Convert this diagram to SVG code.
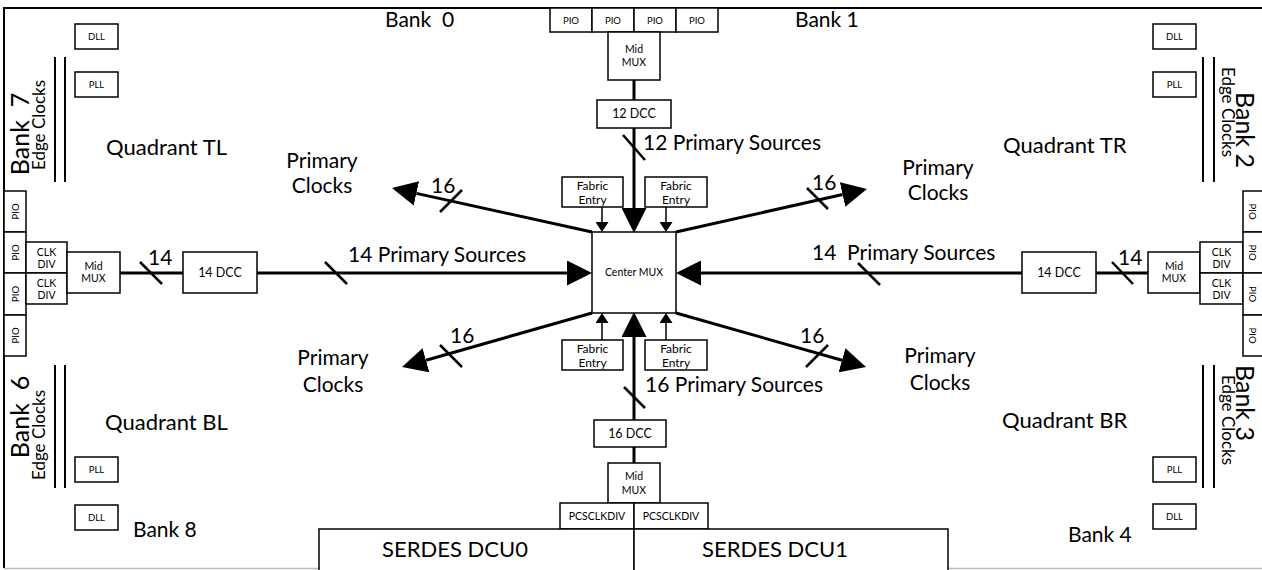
<svg xmlns="http://www.w3.org/2000/svg" width="1262" height="570" viewBox="0 0 1262 570">
<style>
text{font-family:Lato,"Liberation Sans",sans-serif;fill:#000}
.box{fill:#fff;stroke:#000;stroke-width:1.5}
.c{text-anchor:middle}
.thick{stroke:#000;stroke-width:3;fill:none}
.thin{stroke:#000;stroke-width:1.5;fill:none}
.slash{stroke:#000;stroke-width:2.5}
.ec{stroke:#000;stroke-width:2}
.pio{font-size:9.5px}
.sm{font-size:10.5px}
.md{font-size:12.5px}
.fe{font-size:12px}
.lg{font-size:21px}
.xl{font-size:22px}
.pre{white-space:pre}
</style>
<defs>
<marker id="big" markerUnits="userSpaceOnUse" markerWidth="25" markerHeight="25" refX="0" refY="12.5" orient="auto"><path d="M0,0 L25,12.5 L0,25 z" fill="#000"/></marker>
<marker id="small" markerUnits="userSpaceOnUse" markerWidth="10" markerHeight="13" refX="0" refY="6.5" orient="auto"><path d="M0,0 L10,6.5 L0,13 z" fill="#000"/></marker>
</defs>
<rect width="1262" height="570" fill="#fff"/>
<g id="frame">
<path d="M1262,8 H4 V568" fill="none" stroke="#000" stroke-width="2"/>
<line x1="4" y1="568.5" x2="1262" y2="568.5" stroke="#bbb" stroke-width="1.5"/>
</g>
<g id="connectors">
<line class="thick" x1="634" y1="80" x2="634" y2="100"/>
<line class="thick" x1="634" y1="128" x2="634" y2="208" marker-end="url(#big)"/>
<line class="thick" x1="634" y1="447" x2="634" y2="463"/>
<line class="thick" x1="634" y1="420" x2="634" y2="337" marker-end="url(#big)"/>
<line class="thick" x1="120" y1="273" x2="183" y2="273"/>
<line class="thick" x1="257" y1="273" x2="567" y2="273" marker-end="url(#big)"/>
<line class="thick" x1="1148" y1="273" x2="1096" y2="273"/>
<line class="thick" x1="1022" y1="273" x2="701" y2="273" marker-end="url(#big)"/>
<line class="thick" x1="592" y1="232" x2="416.4" y2="193.4" marker-end="url(#big)"/>
<line class="thick" x1="676" y1="232" x2="842.6" y2="194.5" marker-end="url(#big)"/>
<line class="thick" x1="592" y1="313" x2="426" y2="360.2" marker-end="url(#big)"/>
<line class="thick" x1="676" y1="313" x2="842" y2="360.2" marker-end="url(#big)"/>
<line class="thin" x1="602" y1="207" x2="602" y2="222" marker-end="url(#small)"/>
<line class="thin" x1="666" y1="207" x2="666" y2="222" marker-end="url(#small)"/>
<line class="thin" x1="602" y1="340" x2="602" y2="323" marker-end="url(#small)"/>
<line class="thin" x1="666" y1="340" x2="666" y2="323" marker-end="url(#small)"/>
<line class="slash" x1="623" y1="135" x2="645" y2="160"/>
<line class="slash" x1="624" y1="387" x2="645" y2="408"/>
<line class="slash" x1="140" y1="262" x2="162" y2="284"/>
<line class="slash" x1="325" y1="262" x2="347" y2="284"/>
<line class="slash" x1="858" y1="263" x2="880" y2="285"/>
<line class="slash" x1="1112" y1="262" x2="1133" y2="284"/>
<line class="slash" x1="440" y1="212" x2="462" y2="190"/>
<line class="slash" x1="807" y1="188" x2="828" y2="209"/>
<line class="slash" x1="440" y1="345" x2="462" y2="367"/>
<line class="slash" x1="806" y1="367" x2="828" y2="345"/>
<line class="ec" x1="55" y1="57" x2="55" y2="182"/>
<line class="ec" x1="65" y1="57" x2="65" y2="182"/>
<line class="ec" x1="55" y1="365" x2="55" y2="488"/>
<line class="ec" x1="65" y1="365" x2="65" y2="488"/>
<line class="ec" x1="1203" y1="57" x2="1203" y2="182"/>
<line class="ec" x1="1214" y1="57" x2="1214" y2="182"/>
<line class="ec" x1="1203" y1="365" x2="1203" y2="488"/>
<line class="ec" x1="1214" y1="365" x2="1214" y2="488"/>
</g>
<g id="pio-top">
<rect class="box" x="550" y="8" width="42" height="24"/><text class="pio c" x="571" y="24">PIO</text>
<rect class="box" x="592" y="8" width="42" height="24"/><text class="pio c" x="613" y="24">PIO</text>
<rect class="box" x="634" y="8" width="42" height="24"/><text class="pio c" x="655" y="24">PIO</text>
<rect class="box" x="676" y="8" width="42" height="24"/><text class="pio c" x="697" y="24">PIO</text>
</g>
<g id="midmux-top"><rect class="box" x="608" y="32" width="52" height="48"/><text class="sm c" x="634" y="53">Mid</text><text class="sm c" x="634" y="66">MUX</text></g>
<g id="dcc-top"><rect class="box" x="597" y="100" width="74" height="28"/><text class="md c" x="634" y="118">12 DCC</text></g>
<g id="fabric-tl"><rect class="box" x="562" y="177" width="61" height="30"/><text class="fe c" x="592.5" y="190">Fabric</text><text class="fe c" x="592.5" y="203.5">Entry</text></g>
<g id="fabric-tr"><rect class="box" x="645" y="177" width="62" height="30"/><text class="fe c" x="676" y="190">Fabric</text><text class="fe c" x="676" y="203.5">Entry</text></g>
<g id="center-mux"><rect class="box" x="592" y="232" width="84" height="81"/><text class="sm c" x="634" y="276">Center MUX</text></g>
<g id="fabric-bl"><rect class="box" x="562" y="340" width="61" height="30"/><text class="fe c" x="592.5" y="353">Fabric</text><text class="fe c" x="592.5" y="366.5">Entry</text></g>
<g id="fabric-br"><rect class="box" x="645" y="340" width="62" height="30"/><text class="fe c" x="676" y="353">Fabric</text><text class="fe c" x="676" y="366.5">Entry</text></g>
<g id="dcc-bottom"><rect class="box" x="594" y="420" width="72" height="27"/><text class="md c" x="630" y="438">16 DCC</text></g>
<g id="midmux-bottom"><rect class="box" x="608" y="463" width="52" height="40"/><text class="sm c" x="634" y="480">Mid</text><text class="sm c" x="634" y="494">MUX</text></g>
<g id="pcsclkdiv-0"><rect class="box" x="560" y="503" width="74" height="26"/><text class="sm c" x="597" y="520">PCSCLKDIV</text></g>
<g id="pcsclkdiv-1"><rect class="box" x="634" y="503" width="74" height="26"/><text class="sm c" x="671" y="520">PCSCLKDIV</text></g>
<g id="serdes-dcu0"><rect class="box" x="319" y="529" width="315" height="50"/><text class="xl c" x="455" y="557">SERDES DCU0</text></g>
<g id="serdes-dcu1"><rect class="box" x="634" y="529" width="314" height="50"/><text class="xl c" x="775" y="557">SERDES DCU1</text></g>
<g id="pio-left">
<rect class="box" x="4" y="191" width="22" height="41"/><text class="pio c" transform="translate(15,211.5) rotate(-90)" y="3.5">PIO</text>
<rect class="box" x="4" y="232" width="22" height="41"/><text class="pio c" transform="translate(15,252.5) rotate(-90)" y="3.5">PIO</text>
<rect class="box" x="4" y="273" width="22" height="42"/><text class="pio c" transform="translate(15,294) rotate(-90)" y="3.5">PIO</text>
<rect class="box" x="4" y="315" width="22" height="41"/><text class="pio c" transform="translate(15,335.5) rotate(-90)" y="3.5">PIO</text>
</g>
<g id="clkdiv-left">
<rect class="box" x="26" y="242" width="41" height="31"/><text class="sm c" x="46.5" y="256">CLK</text><text class="sm c" x="46.5" y="268">DIV</text>
<rect class="box" x="26" y="273" width="41" height="31"/><text class="sm c" x="46.5" y="287">CLK</text><text class="sm c" x="46.5" y="299">DIV</text>
</g>
<g id="midmux-left"><rect class="box" x="67" y="252" width="53" height="41"/><text class="sm c" x="93.5" y="270">Mid</text><text class="sm c" x="93.5" y="282">MUX</text></g>
<g id="dcc-left"><rect class="box" x="183" y="252" width="74" height="41"/><text class="md c" x="220" y="277">14 DCC</text></g>
<g id="dcc-right"><rect class="box" x="1022" y="252" width="74" height="41"/><text class="md c" x="1059" y="277">14 DCC</text></g>
<g id="midmux-right"><rect class="box" x="1148" y="252" width="52" height="41"/><text class="sm c" x="1174" y="270">Mid</text><text class="sm c" x="1174" y="282">MUX</text></g>
<g id="clkdiv-right">
<rect class="box" x="1200" y="242" width="43" height="31"/><text class="sm c" x="1221.5" y="256">CLK</text><text class="sm c" x="1221.5" y="268">DIV</text>
<rect class="box" x="1200" y="273" width="43" height="31"/><text class="sm c" x="1221.5" y="287">CLK</text><text class="sm c" x="1221.5" y="299">DIV</text>
</g>
<g id="pio-right">
<rect class="box" x="1243" y="191" width="24" height="41"/><text class="pio c" transform="translate(1252,211.5) rotate(90)" y="3.5">PIO</text>
<rect class="box" x="1243" y="232" width="24" height="41"/><text class="pio c" transform="translate(1252,252.5) rotate(90)" y="3.5">PIO</text>
<rect class="box" x="1243" y="273" width="24" height="42"/><text class="pio c" transform="translate(1252,294) rotate(90)" y="3.5">PIO</text>
<rect class="box" x="1243" y="315" width="24" height="41"/><text class="pio c" transform="translate(1252,335.5) rotate(90)" y="3.5">PIO</text>
</g>
<g id="dll-tl"><rect class="box" x="75" y="24" width="43" height="25"/><text class="pio c" x="96.5" y="40">DLL</text></g>
<g id="pll-tl"><rect class="box" x="75" y="72" width="43" height="25"/><text class="pio c" x="96.5" y="88">PLL</text></g>
<g id="pll-bl"><rect class="box" x="75" y="457" width="43" height="25"/><text class="pio c" x="96.5" y="473">PLL</text></g>
<g id="dll-bl"><rect class="box" x="75" y="505" width="43" height="25"/><text class="pio c" x="96.5" y="521">DLL</text></g>
<g id="dll-tr"><rect class="box" x="1153" y="24" width="43" height="25"/><text class="pio c" x="1174.5" y="40">DLL</text></g>
<g id="pll-tr"><rect class="box" x="1153" y="72" width="43" height="25"/><text class="pio c" x="1174.5" y="88">PLL</text></g>
<g id="pll-br"><rect class="box" x="1153" y="457" width="43" height="25"/><text class="pio c" x="1174.5" y="473">PLL</text></g>
<g id="dll-br"><rect class="box" x="1153" y="504" width="43" height="25"/><text class="pio c" x="1174.5" y="520">DLL</text></g>
<g id="labels">
<text class="lg pre" x="385" y="27">Bank  0</text>
<text class="lg" x="795" y="27">Bank 1</text>
<text class="lg" x="133" y="537">Bank 8</text>
<text class="lg" x="1068" y="542">Bank 4</text>
<text class="xl" x="106" y="155">Quadrant TL</text>
<text class="xl" x="1003" y="153">Quadrant TR</text>
<text class="xl" x="105" y="430">Quadrant BL</text>
<text class="xl" x="1002" y="428">Quadrant BR</text>
<text class="c pre" style="font-size:25px" transform="translate(29,134) rotate(-90)">Bank  7</text>
<text class="c" style="font-size:17px" transform="translate(45,125) rotate(-90)">Edge Clocks</text>
<text class="c pre" style="font-size:25px" transform="translate(29,417) rotate(-90)">Bank  6</text>
<text class="c" style="font-size:17px" transform="translate(45,435) rotate(-90)">Edge Clocks</text>
<text class="c" style="font-size:25px" transform="translate(1236,130) rotate(90)">Bank 2</text>
<text class="c" style="font-size:17px" transform="translate(1222,112) rotate(90)">Edge Clocks</text>
<text class="c" style="font-size:25px" transform="translate(1236,403) rotate(90)">Bank 3</text>
<text class="c" style="font-size:17px" transform="translate(1222,420) rotate(90)">Edge Clocks</text>
<text class="lg c" x="322" y="168">Primary</text><text class="lg c" x="322" y="193">Clocks</text>
<text class="lg c" x="938" y="175">Primary</text><text class="lg c" x="938" y="200">Clocks</text>
<text class="lg c" x="333" y="365">Primary</text><text class="lg c" x="333" y="392">Clocks</text>
<text class="lg c" x="940" y="363">Primary</text><text class="lg c" x="940" y="390">Clocks</text>
<text class="lg" x="431" y="193">16</text>
<text class="lg" x="812" y="190">16</text>
<text class="lg" x="450" y="343">16</text>
<text class="lg" x="800" y="343">16</text>
<text class="lg" x="148" y="265">14</text>
<text class="lg" x="1118" y="265">14</text>
<text class="lg" x="348" y="262">14 Primary Sources</text>
<text class="lg pre" x="812" y="260">14  Primary Sources</text>
<text class="lg" x="643" y="150">12 Primary Sources</text>
<text class="lg" x="645" y="392">16 Primary Sources</text>
</g>
</svg>
